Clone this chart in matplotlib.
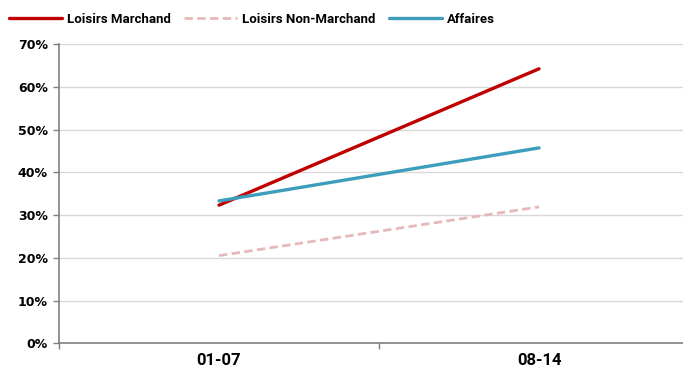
import matplotlib
matplotlib.use("Agg")
import matplotlib.pyplot as plt
from matplotlib.ticker import FixedLocator, PercentFormatter

periods = ["01-07", "08-14"]
loisirs_marchand = [32.3, 64.2]
loisirs_non_marchand = [20.5, 31.9]
affaires = [33.3, 45.7]

label_font = ["Roboto", "DejaVu Sans"]

fig = plt.figure(figsize=(6.83, 3.72), dpi=100)
ax = fig.add_axes([0.0864, 0.0772, 0.9136, 0.8045])

x = list(range(len(periods)))
ax.plot(x, loisirs_marchand, color="#C00000", lw=2.4, solid_capstyle="round", label="Loisirs Marchand")
ax.plot(x, loisirs_non_marchand, color="#E6B9B8", lw=2.0, ls=(0, (3, 1.6)), label="Loisirs Non-Marchand")
ax.plot(x, affaires, color="#3D9DBD", lw=2.4, solid_capstyle="round", label="Affaires")

ax.set_xlim(-0.5, 1.45)
ax.set_ylim(0, 70)
ax.yaxis.set_major_locator(FixedLocator(range(0, 71, 10)))
ax.yaxis.set_major_formatter(PercentFormatter(decimals=0))
ax.grid(axis="y", color="#D9D9D9", lw=1.0)
ax.set_axisbelow(True)

ax.set_xticks(x)
ax.set_xticklabels(periods, fontsize=12, fontweight="bold", family=label_font)
ax.xaxis.set_minor_locator(FixedLocator([-0.5, 0.5, 1.5]))
ax.tick_params(axis="x", which="major", length=0, pad=7)
ax.tick_params(axis="x", which="minor", length=4, color="#808080", width=1)
ax.tick_params(axis="y", length=4, color="#808080", width=1, labelsize=9, pad=4)
for lab in ax.get_yticklabels():
    lab.set_fontweight("bold")

for side in ("top", "right"):
    ax.spines[side].set_visible(False)
for side in ("left", "bottom"):
    ax.spines[side].set_color("#808080")
    ax.spines[side].set_linewidth(1.2)

fig.legend(loc="center left", bbox_to_anchor=(-0.004, 0.948), ncol=3, frameon=False,
           handlelength=4.0, handletextpad=0.4, columnspacing=1.0,
           prop={"size": 9.5, "weight": "bold", "family": label_font})

fig.savefig("out.png", dpi=100)
